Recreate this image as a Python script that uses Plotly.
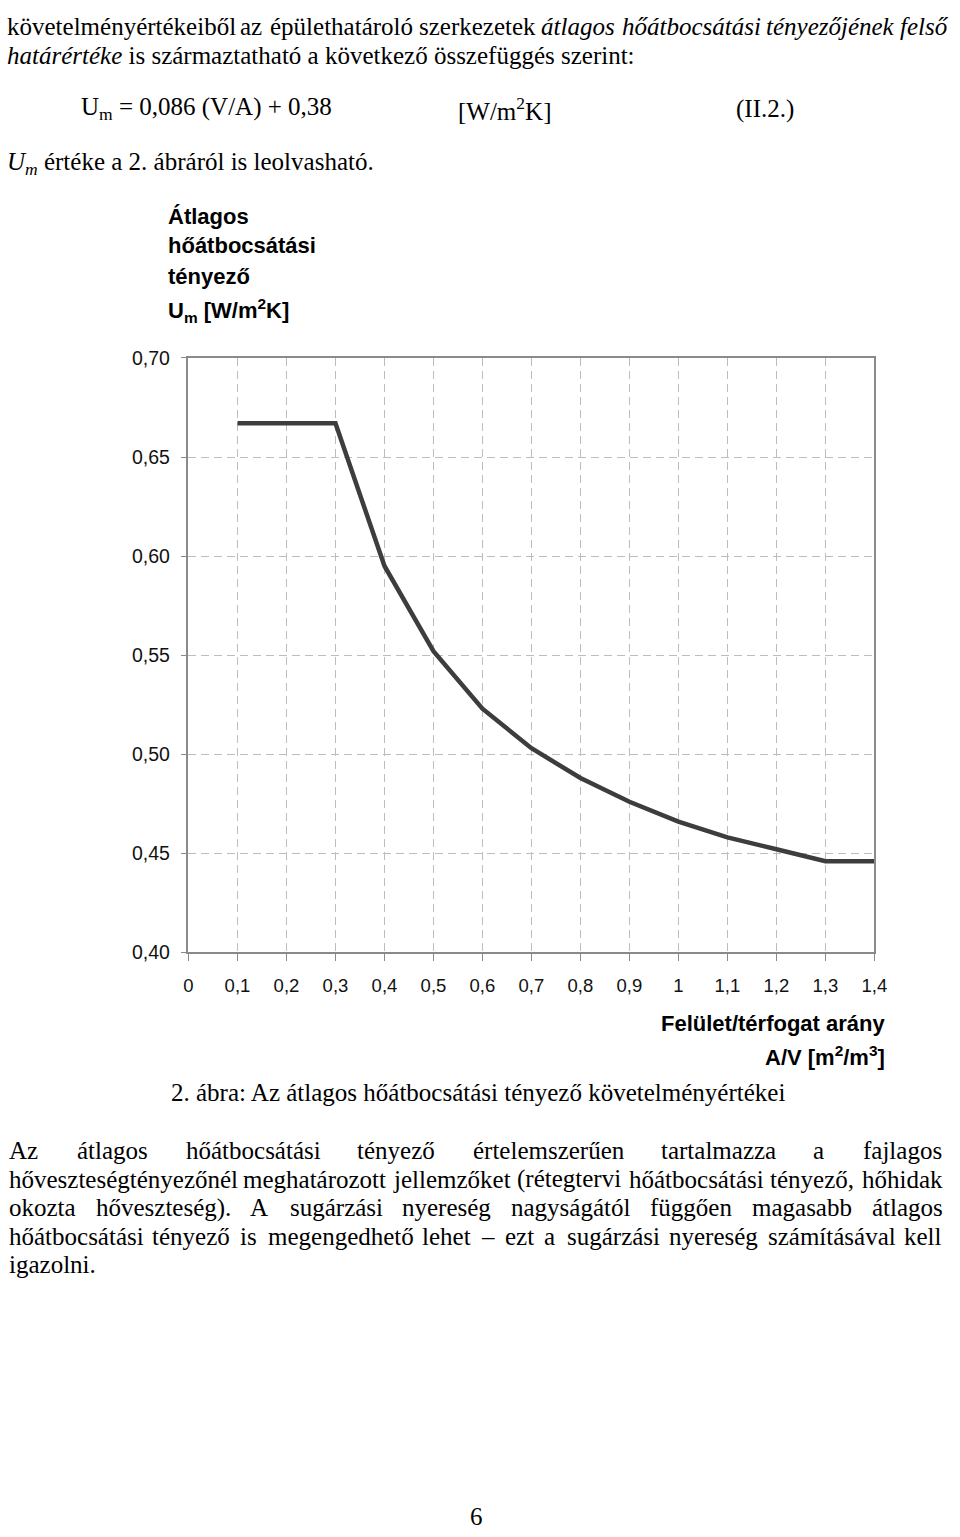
import re
import plotly.graph_objects as go

# ---- data ----
av_ratio = [0.1, 0.2, 0.3, 0.4, 0.5, 0.6, 0.7, 0.8, 0.9, 1.0, 1.1, 1.2, 1.3, 1.4]
u_m = [0.667, 0.667, 0.667, 0.595, 0.552, 0.523, 0.503, 0.488, 0.476, 0.466, 0.458, 0.452, 0.446, 0.446]
x_tickvals = [0, 0.1, 0.2, 0.3, 0.4, 0.5, 0.6, 0.7, 0.8, 0.9, 1.0, 1.1, 1.2, 1.3, 1.4]
x_ticktext = ["0", "0,1", "0,2", "0,3", "0,4", "0,5", "0,6", "0,7", "0,8", "0,9", "1", "1,1", "1,2", "1,3", "1,4"]
y_tickvals = [0.40, 0.45, 0.50, 0.55, 0.60, 0.65, 0.70]
y_ticktext = ["0,40", "0,45", "0,50", "0,55", "0,60", "0,65", "0,70"]

FW, FH = 960, 1537


def px(x):
    return x / FW


def py(y):
    return (FH - y) / FH


SERIF = "Liberation Serif"
SANS = "Liberation Sans"

fig = go.Figure()
fig.add_trace(go.Scatter(x=av_ratio, y=u_m, mode="lines",
                         line=dict(color="#3d3d3d", width=4.5),
                         hoverinfo="skip", showlegend=False))

grid = "#bdbdbd"
axcol = "#8a8a8a"
fig.update_layout(
    width=FW, height=FH,
    margin=dict(l=0, r=0, t=0, b=0),
    paper_bgcolor="white", plot_bgcolor="white",
    showlegend=False,
    xaxis=dict(domain=[px(187), px(886)], range=[0, 1.4],
               tickvals=x_tickvals, ticktext=x_ticktext,
               showgrid=True, gridcolor=grid, griddash="8px,5px", gridwidth=1,
               showline=True, linecolor=axcol, linewidth=1.5, mirror=True,
               ticks="outside", ticklen=7, tickcolor=axcol,
               ticklabelstandoff=9,
               tickfont=dict(family=SANS, size=18.5, color="#111"),
               zeroline=False, fixedrange=True),
    yaxis=dict(domain=[py(955), py(352)], range=[0.40, 0.70],
               tickvals=y_tickvals, ticktext=y_ticktext,
               showgrid=True, gridcolor=grid, griddash="8px,5px", gridwidth=1,
               showline=True, linecolor=axcol, linewidth=1.5, mirror=True,
               ticks="outside", ticklen=6, tickcolor=axcol,
               ticklabelstandoff=7,
               tickfont=dict(family=SANS, size=19.5, color="#111"),
               zeroline=False, fixedrange=True),
)

ann = []


def text(x, y, s, size, family=SERIF, anchor="left", color="#000"):
    ann.append(dict(x=px(x), y=py(y), xref="paper", yref="paper", text=s,
                    showarrow=False, xanchor=anchor, yanchor="middle",
                    borderpad=0, font=dict(family=family, size=size, color=color)))


# Times / Liberation Serif advance widths (per 1000 em) for justification
_TW = dict(zip("abcdefghijklmnopqrstuvwxyz",
               [444, 500, 444, 500, 444, 333, 500, 500, 278, 278, 500, 278, 778,
                500, 500, 500, 500, 333, 389, 278, 500, 500, 722, 500, 500, 444]))
_TW.update(dict(zip("ABCDEFGHIJKLMNOPQRSTUVWXYZ",
                    [722, 667, 667, 722, 611, 556, 722, 722, 333, 389, 722, 611, 889,
                     722, 722, 556, 722, 667, 556, 611, 722, 722, 944, 722, 722, 611])))
_TW.update({"(": 333, ")": 333, ".": 250, ",": 250, ":": 278, "–": 500, " ": 250})
_TWI = dict(zip("abcdefghijklmnopqrstuvwxyz",
                [500, 500, 444, 500, 444, 278, 500, 500, 278, 278, 444, 278, 722,
                 500, 500, 500, 500, 389, 389, 278, 500, 444, 667, 444, 444, 389]))
_BASE = {"á": "a", "é": "e", "í": "i", "ó": "o", "ö": "o", "ő": "o",
         "ú": "u", "ü": "u", "ű": "u"}


def word_w(w, size):
    table = _TWI if w.startswith("<i>") else _TW
    w = re.sub(r"<[^>]+>", "", w)
    return sum(table.get(_BASE.get(c, c), _TW.get(c, 500)) for c in w) * size / 1000.0


def justify(y, wlist, size, left, right):
    widths = [word_w(w, size) for w in wlist]
    gap = (right - left - sum(widths)) / (len(wlist) - 1)
    x = left
    for w, wd in zip(wlist, widths):
        text(x, y, w, size)
        x += wd + gap


BS = 25  # body size
L, R = 3, 953

# top paragraph
top1 = "követelményértékeiből az épülethatároló szerkezetek".split() + \
    ["<i>%s</i>" % w for w in "átlagos hőátbocsátási tényezőjének felső".split()]
justify(16, top1, BS, 1, 958)
text(1, 45, "<i>határértéke</i> is származtatható a következő összefüggés szerint:", BS)
text(76, 99, "U<sub>m</sub> = 0,086 (V/A) + 0,38", BS)
text(461, 99, "[W/m<sup>2</sup>K]", BS)
text(744, 99, "(II.2.)", BS)
text(1, 155, "<i>U<sub>m</sub></i> értéke a 2. ábráról is leolvasható.", BS)

# chart y title
CS = 22
text(165, 208, "<b>Átlagos</b>", CS, SANS)
text(165, 238, "<b>hőátbocsátási</b>", CS, SANS)
text(165, 269, "<b>tényező</b>", CS, SANS)
text(165, 304, "<b>U<sub>m</sub> [W/m<sup>2</sup>K]</b>", CS, SANS)

# x title
text(898, 1027, "<b>Felület/térfogat arány</b>", CS, SANS, anchor="right")
text(898, 1060, "<b>A/V [m<sup>2</sup>/m<sup>3</sup>]</b>", CS, SANS, anchor="right")

# caption
text(168, 1097, "2. ábra: Az átlagos hőátbocsátási tényező követelményértékei", BS)

# bottom paragraph, justified
para = [
    "Az átlagos hőátbocsátási tényező értelemszerűen tartalmazza a fajlagos",
    "hőveszteségtényezőnél meghatározott jellemzőket (rétegtervi hőátbocsátási tényező, hőhidak",
    "okozta hőveszteség). A sugárzási nyereség nagyságától függően magasabb átlagos",
    "hőátbocsátási tényező is megengedhető lehet – ezt a sugárzási nyereség számításával kell",
]
for i, line in enumerate(para):
    justify(1156 + 29 * i, line.split(), BS, L, R)
text(L, 1156 + 29 * 4, "igazolni.", BS)

text(480, 1527, "6", BS, anchor="center")

fig.update_layout(annotations=ann)
fig.write_html("out.html")
